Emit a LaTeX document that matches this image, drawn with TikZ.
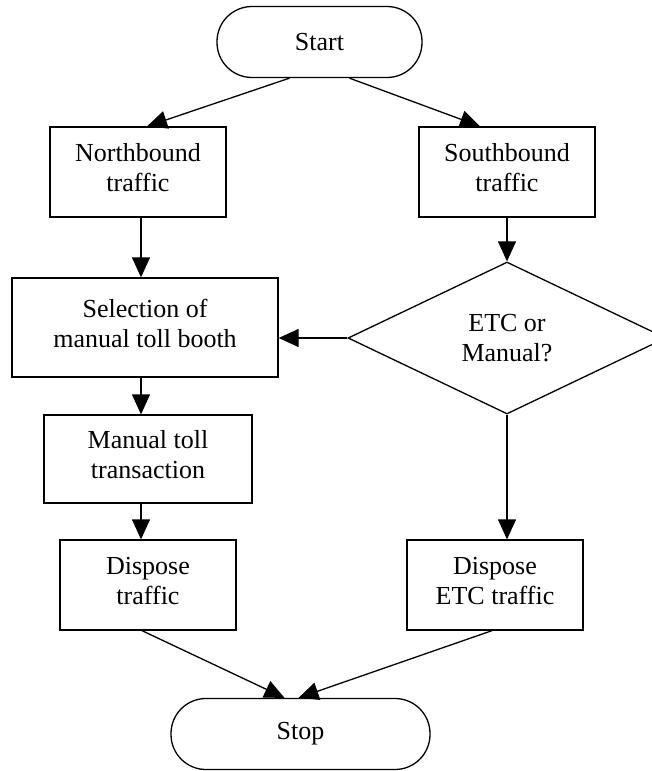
\documentclass[tikz,border=0pt]{standalone}
\usepackage{fontspec}
\setmainfont{Liberation Serif}
\usetikzlibrary{shapes.geometric,arrows.meta}

\begin{document}
\begin{tikzpicture}[x=1pt,y=-1pt,line width=1.3pt,font=\fontsize{26pt}{30pt}\selectfont,
  box/.style={rectangle,draw,align=center,minimum width=\boxwd,minimum height=90pt,inner sep=0pt,text depth=9pt},
  term/.style={rectangle,draw,rounded corners=35pt,minimum height=71pt,inner sep=0pt},
  decide/.style={diamond,draw,aspect=2,align=center,inner sep=0pt,minimum width=318pt,minimum height=152pt},
  flow/.style={-{Triangle[length=20pt,width=18pt]}}]

\def\boxwd{176pt}

\useasboundingbox (0,0) rectangle (651,771);

\node[term,minimum width=205pt] (start) at (319.5,42) {Start};
\node[box] (north) at (138,172) {Northbound\\traffic};
\node[box] (south) at (507,172) {Southbound\\traffic};
\node[box,minimum width=266pt,minimum height=99pt] (select) at (145,327.5) {Selection of\\manual toll booth};
\node[decide] (etc) at (507,338) {ETC or\\Manual?};
\node[box,minimum width=208pt,minimum height=88pt] (manual) at (148,459) {Manual toll\\transaction};
\node[box] (dispose) at (148,585) {Dispose\\traffic};
\node[box] (disposeetc) at (495,585) {Dispose\\ETC traffic};
\node[term,minimum width=259pt] (stop) at (300.5,734) {Stop};

\draw[flow] ([xshift=-30pt]start.south) -- ([xshift=9pt]north.north);
\draw[flow] ([xshift=30pt]start.south) -- ([xshift=-27pt]south.north);
\draw[flow] ([xshift=3pt]north.south) -- ([xshift=3pt]north.south |- select.north);
\draw[flow] (south.south) -- (etc.north);
\draw[flow] (etc.west) -- (etc.west -| select.east);
\draw[flow] ([xshift=3pt]north.south |- select.south) -- ([xshift=3pt]north.south |- manual.north);
\draw[flow] ([xshift=3pt]north.south |- manual.south) -- ([xshift=3pt]north.south |- dispose.north);
\draw[flow] (etc.south) -- (etc.south |- disposeetc.north);
\draw[flow] ([xshift=-6pt]dispose.south) -- ([xshift=-16pt]stop.north);
\draw[flow] ([xshift=-3pt]disposeetc.south) -- ([xshift=-2pt]stop.north);
\end{tikzpicture}
\end{document}
